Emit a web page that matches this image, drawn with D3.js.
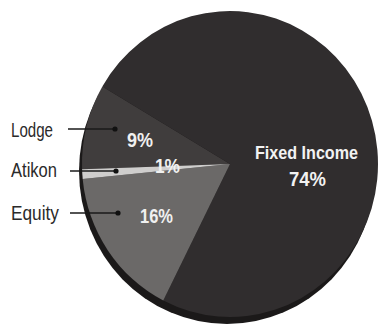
<!DOCTYPE html>
<html>
<head>
<meta charset="utf-8">
<script src="https://cdn.jsdelivr.net/npm/d3@7"></script>
<style>
  html, body { margin: 0; padding: 0; background: #fff; }
  svg { display: block; }
</style>
</head>
<body>
<svg id="chart" width="380" height="330"></svg>
<script>
// Asset mix, listed clockwise from just below the 9 o'clock position
const categories = ["Lodge", "Fixed Income", "Equity", "Atikon"];
const shares = [9, 74, 16, 1];
const sliceColors = ["#403d3d", "#302d2e", "#6b6968", "#cfcecd"];
// Categories that get an outside label with a leader line
const leaderLabels = ["Lodge", "Atikon", "Equity"];

const W = 380, H = 330;
const cx = 230, cy = 164;
const R = 153;              // radius of the top face before horizontal squeeze
const squeezeX = 148 / 153; // slight oval shape of the face
const depth = { dx: -3, dy: 7 };
const startDeg = 268;

const svg = d3.select("#chart");
const font = "'Liberation Sans', Arial, sans-serif";

const pie = d3.pie()
  .sort(null)
  .value(d => d.v)
  .startAngle(startDeg * Math.PI / 180)
  .endAngle((startDeg + 360) * Math.PI / 180);

const data = categories.map((c, i) => ({ c, v: shares[i], color: sliceColors[i] }));
const arcs = pie(data);
const arc = d3.arc().innerRadius(0).outerRadius(R);

// side/thickness of the disc
svg.append("ellipse")
  .attr("cx", cx + depth.dx)
  .attr("cy", cy + depth.dy)
  .attr("rx", R * squeezeX)
  .attr("ry", R)
  .attr("fill", "#1b1919");

const face = svg.append("g")
  .attr("transform", `translate(${cx},${cy}) scale(${squeezeX},1)`);

face.selectAll("path.slice")
  .data(arcs)
  .join("path")
  .attr("class", "slice")
  .attr("d", arc)
  .attr("fill", d => d.data.color);

// condensed text: squeeze glyphs to the given width
function label(x, y, str, size, width, opts = {}) {
  return svg.append("text")
    .attr("x", x).attr("y", y)
    .attr("text-anchor", opts.anchor || "start")
    .attr("font-family", font)
    .attr("font-weight", opts.bold ? "bold" : "normal")
    .attr("font-size", size)
    .attr("fill", opts.fill || "#eee")
    .attr("textLength", width)
    .attr("lengthAdjust", "spacingAndGlyphs")
    .text(str);
}

// Percentages inside the small slices
const pctPos = {
  "Lodge":  [127, 147, 26],
  "Atikon": [155, 173, 25],
  "Equity": [140, 223, 33]
};
arcs.forEach(a => {
  const p = pctPos[a.data.c];
  if (!p) return;
  label(p[0], p[1], a.data.v + "%", 20, p[2], { bold: true, fill: "#f0f0f0" });
});

// Fixed Income label
const fi = arcs.find(a => a.data.c === "Fixed Income");
label(255, 159, fi.data.c, 19, 103, { bold: true, fill: "#f2f2f2" });
label(289, 186, fi.data.v + "%", 20, 37, { bold: true, fill: "#f2f2f2" });

// Outside labels with leader lines and dots
const leaderPos = {
  "Lodge":  { ty: 137, ly: 129, x1: 68, x2: 115, w: 42 },
  "Atikon": { ty: 177, ly: 171, x1: 70, x2: 116, w: 46 },
  "Equity": { ty: 220, ly: 213, x1: 70, x2: 118, w: 48 }
};
leaderLabels.forEach(name => {
  const p = leaderPos[name];
  label(11, p.ty, name, 20, p.w, { fill: "#2a2a2a" });
  svg.append("line")
    .attr("x1", p.x1).attr("x2", p.x2)
    .attr("y1", p.ly).attr("y2", p.ly)
    .attr("stroke", "#1a1a1a")
    .attr("stroke-width", 1.3);
  svg.append("circle")
    .attr("cx", p.x2).attr("cy", p.ly)
    .attr("r", 2.6)
    .attr("fill", "#111");
});
</script>
</body>
</html>
